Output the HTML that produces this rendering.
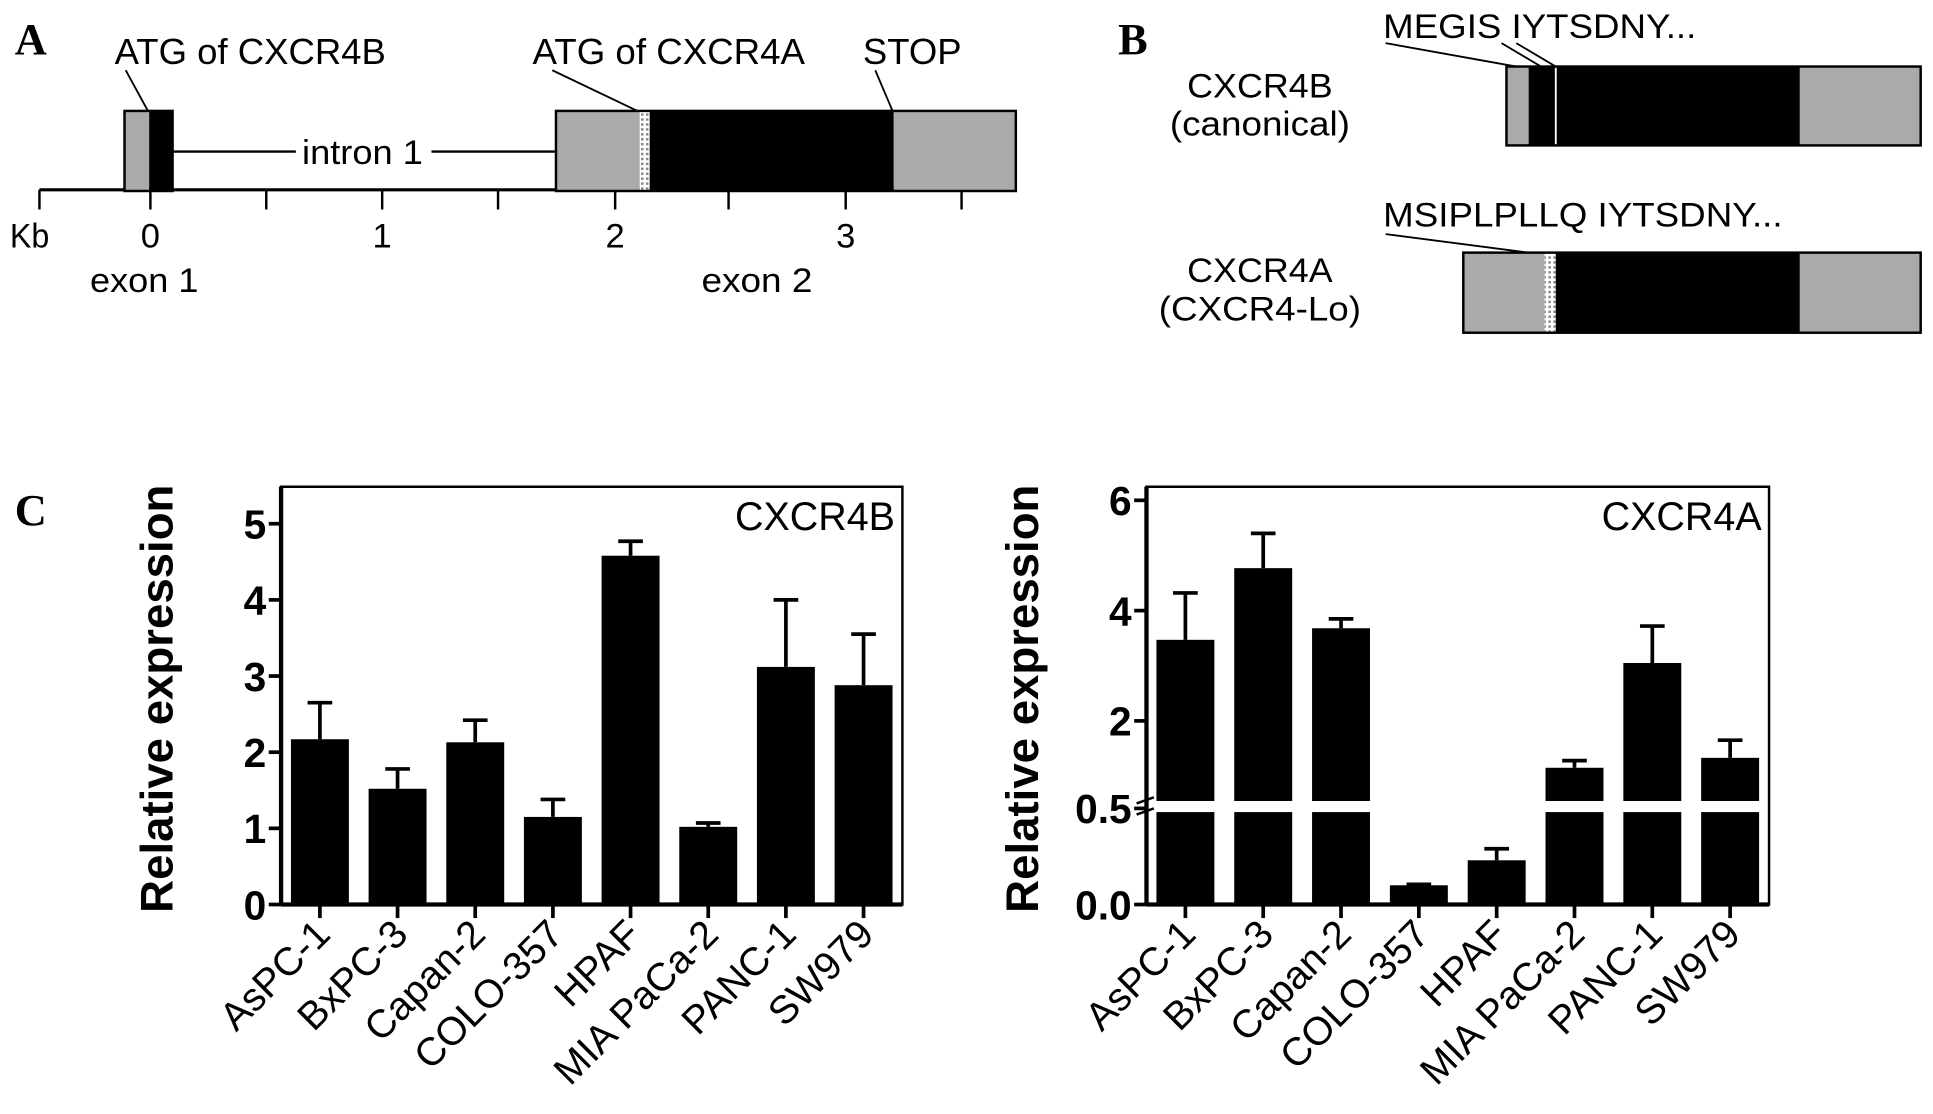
<!DOCTYPE html>
<html><head><meta charset="utf-8"><style>
html,body{margin:0;padding:0;background:#fff}
svg{display:block;font-family:"Liberation Sans",sans-serif}
</style></head><body>
<svg id="fig" width="1933" height="1114" viewBox="0 0 1568 904" preserveAspectRatio="none">
<defs>
<pattern id="dots" width="4" height="4" patternUnits="userSpaceOnUse"><rect width="4" height="4" fill="#fff"/><rect width="2" height="2" fill="#888"/></pattern>
</defs>
<g>
<text x="12" y="44" font-family="Liberation Serif,serif" font-weight="bold" font-size="36">A</text>
<line x1="32" y1="154" x2="824" y2="154" stroke="#000" stroke-width="2.5"/>
<g stroke="#000" stroke-width="2">
<line x1="32" y1="154" x2="32" y2="170"/><line x1="122" y1="154" x2="122" y2="170"/><line x1="216" y1="154" x2="216" y2="170"/><line x1="310" y1="154" x2="310" y2="170"/><line x1="404" y1="154" x2="404" y2="170"/><line x1="499" y1="154" x2="499" y2="170"/><line x1="591" y1="154" x2="591" y2="170"/><line x1="686" y1="154" x2="686" y2="170"/><line x1="780" y1="154" x2="780" y2="170"/>
</g>
<g font-size="28" text-anchor="middle">
<text x="24" y="201" textLength="32" lengthAdjust="spacingAndGlyphs">Kb</text><text x="122" y="201">0</text><text x="310" y="201">1</text><text x="499" y="201">2</text><text x="686" y="201">3</text>
<text x="117" y="237" textLength="88" lengthAdjust="spacingAndGlyphs">exon 1</text>
<text x="614" y="237" textLength="90" lengthAdjust="spacingAndGlyphs">exon 2</text>
</g>
<g>
<rect x="101" y="90" width="20" height="65" fill="#aaa"/><rect x="121" y="90" width="19" height="65" fill="#000"/>
<rect x="101" y="90" width="39" height="65" fill="none" stroke="#000" stroke-width="2"/>
</g>
<line x1="140" y1="123" x2="240" y2="123" stroke="#000" stroke-width="2"/>
<line x1="350" y1="123" x2="451" y2="123" stroke="#000" stroke-width="2"/>
<text x="294" y="133" font-size="28" text-anchor="middle" textLength="98" lengthAdjust="spacingAndGlyphs">intron 1</text>
<g>
<rect x="451" y="90" width="68" height="65" fill="#aaa"/><rect x="519" y="90" width="8" height="65" fill="url(#dots)"/>
<rect x="527" y="90" width="198" height="65" fill="#000"/><rect x="725" y="90" width="99" height="65" fill="#aaa"/>
<rect x="451" y="90" width="373" height="65" fill="none" stroke="#000" stroke-width="2"/>
</g>
<g font-size="29">
<text x="93" y="52" textLength="220" lengthAdjust="spacingAndGlyphs">ATG of CXCR4B</text><line x1="102" y1="57" x2="120" y2="90" stroke="#000" stroke-width="1.5"/>
<text x="432" y="52" textLength="221" lengthAdjust="spacingAndGlyphs">ATG of CXCR4A</text><line x1="448" y1="57" x2="517" y2="90" stroke="#000" stroke-width="1.5"/>
<text x="700" y="52" textLength="80" lengthAdjust="spacingAndGlyphs">STOP</text><line x1="710" y1="57" x2="724" y2="90" stroke="#000" stroke-width="1.5"/>
</g>
</g>
<g>
<text x="907" y="44" font-family="Liberation Serif,serif" font-weight="bold" font-size="36">B</text>
<g font-size="28" text-anchor="middle">
<text x="1022" y="79" textLength="118" lengthAdjust="spacingAndGlyphs">CXCR4B</text><text x="1022" y="110" textLength="146" lengthAdjust="spacingAndGlyphs">(canonical)</text>
<text x="1022" y="229" textLength="118" lengthAdjust="spacingAndGlyphs">CXCR4A</text><text x="1022" y="260" textLength="164" lengthAdjust="spacingAndGlyphs">(CXCR4-Lo)</text>
</g>
<g>
<rect x="1222" y="54" width="18" height="64" fill="#aaa"/><rect x="1240" y="54" width="220" height="64" fill="#000"/>
<line x1="1262" y1="54" x2="1262" y2="118" stroke="#fff" stroke-width="1.5"/>
<rect x="1460" y="54" width="98" height="64" fill="#aaa"/>
<rect x="1222" y="54" width="336" height="64" fill="none" stroke="#000" stroke-width="2"/>
</g>
<text x="1122" y="31" font-size="28" textLength="254" lengthAdjust="spacingAndGlyphs">MEGIS IYTSDNY...</text>
<g stroke="#000" stroke-width="1.5"><line x1="1124" y1="35" x2="1230" y2="54"/><line x1="1218" y1="35" x2="1250" y2="54"/><line x1="1230" y1="35" x2="1262" y2="54"/></g>
<g>
<rect x="1187" y="205" width="66" height="65" fill="#aaa"/><rect x="1253" y="205" width="9" height="65" fill="url(#dots)"/>
<rect x="1262" y="205" width="198" height="65" fill="#000"/><rect x="1460" y="205" width="98" height="65" fill="#aaa"/>
<rect x="1187" y="205" width="371" height="65" fill="none" stroke="#000" stroke-width="2"/>
</g>
<text x="1122" y="184" font-size="28" textLength="324" lengthAdjust="spacingAndGlyphs">MSIPLPLLQ IYTSDNY...</text>
<line x1="1124" y1="190" x2="1240" y2="205" stroke="#000" stroke-width="1.5"/>
</g>
<text x="12" y="426" font-family="Liberation Serif,serif" font-weight="bold" font-size="36">C</text>
<g id="c1"></g>
<g id="c2"></g>
</svg>
<script>
const categories = ["AsPC-1","BxPC-3","Capan-2","COLO-357","HPAF","MIA PaCa-2","PANC-1","SW979"];
const cxcr4bValues = [2.17,1.52,2.13,1.15,4.58,1.02,3.12,2.88];
const cxcr4bErrTops = [2.65,1.78,2.42,1.38,4.77,1.07,4.0,3.55];
const cxcr4bTicks = [0,1,2,3,4,5];
const cxcr4aValues = [3.47,4.77,3.68,0.10,0.23,1.15,3.05,1.33];
const cxcr4aErrTops = [4.32,5.4,3.85,0.105,0.29,1.28,3.72,1.65];
const cxcr4aTicks = [0,0.5,2,4,6];
const cxcr4aTickLabels = ["0.0","0.5","2","4","6"];
const NS = "http://www.w3.org/2000/svg";
function mk(parent, tag, attrs, text){const e=document.createElementNS(NS,tag);for(const k in attrs)e.setAttribute(k,attrs[k]);if(text!==undefined)e.textContent=text;parent.appendChild(e);return e;}
function drawChart(g, cfg){
  const {left,right,top,bottom,y,values,errs,ticks,tickLabels,title,brk}=cfg;
  const n=categories.length, step=(right-left)/n, bw=47;
  const ylab=mk(g,"text",{x:0,y:0,transform:`translate(${left-88},567) rotate(-90)`,"text-anchor":"middle","font-weight":"bold","font-size":"37"},"Relative expression");
  
  
  values.forEach((v,i)=>{
    const cx=left+step*(i+0.5);
    const et=mk(g,"path",{d:`M${cx} ${y(v)} V${y(errs[i])} M${cx-10} ${y(errs[i])} H${cx+10}`,stroke:"#000","stroke-width":"3",fill:"none"});
    
    
    const b=mk(g,"rect",{x:cx-bw/2,y:y(v),width:bw,height:bottom-y(v),fill:"#000"});
    
    
    mk(g,"line",{x1:cx,y1:bottom,x2:cx,y2:bottom+11,stroke:"#000","stroke-width":"3"});
    const t=mk(g,"text",{x:0,y:0,transform:`translate(${cx+10},${bottom+26}) rotate(-45)`,"text-anchor":"end","font-size":"32"},categories[i]);
    
    
  });
  if(brk){
    const br=mk(g,"rect",{x:left+2,y:brk[0],width:right-left-4,height:brk[1]-brk[0],fill:"#fff"});
    
    
  }
  const fr=mk(g,"path",{d:`M${left} ${top} H${right} V${bottom} H${left} Z`,fill:"none",stroke:"#000","stroke-width":"2"});
  
  
  mk(g,"line",{x1:left,y1:top,x2:left,y2:bottom,stroke:"#000","stroke-width":"3.5"});
  mk(g,"line",{x1:left,y1:bottom,x2:right,y2:bottom,stroke:"#000","stroke-width":"3.5"});
  ticks.forEach((tv,i)=>{
    const yy=y(tv);
    mk(g,"line",{x1:left-10,y1:yy,x2:left,y2:yy,stroke:"#000","stroke-width":"3"});
    const t=mk(g,"text",{x:left-12,y:yy+12,"text-anchor":"end","font-weight":"bold","font-size":"33"},tickLabels?tickLabels[i]:String(tv));
    
    
  });
  if(brk){
    mk(g,"path",{d:`M${left-8} ${brk[0]+2} L${left+6} ${brk[0]-3} M${left-8} ${brk[1]+2} L${left+6} ${brk[1]-3}`,stroke:"#000","stroke-width":"2"});
  }
  const tt=mk(g,"text",{x:right-6,y:top+35,"text-anchor":"end","font-size":"32"},title);
  
  
}
const y1=v=>734-v*61.8;
drawChart(document.getElementById("c1"),{left:228,right:732,top:395,bottom:734,y:y1,values:cxcr4bValues,errs:cxcr4bErrTops,ticks:cxcr4bTicks,title:"CXCR4B"});
const y2=v=> v<=0.5 ? 734-v*156 : 585-(v-2)*44.75;
drawChart(document.getElementById("c2"),{left:930,right:1435,top:395,bottom:734,y:y2,values:cxcr4aValues,errs:cxcr4aErrTops,ticks:cxcr4aTicks,tickLabels:cxcr4aTickLabels,title:"CXCR4A",brk:[650,659]});
</script>
</body></html>
